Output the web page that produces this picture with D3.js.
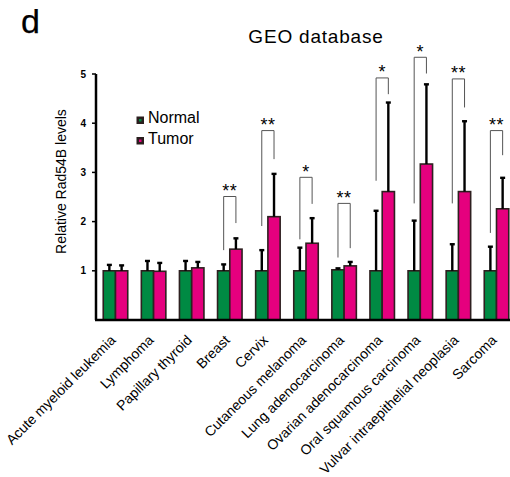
<!DOCTYPE html>
<html>
<head>
<meta charset="utf-8">
<script src="https://cdn.jsdelivr.net/npm/d3@7"></script>
<style>
  body { margin: 0; background: #fff; }
  text { font-family: "Liberation Sans", Arial, sans-serif; }
</style>
</head>
<body>
<svg id="main" width="510" height="477"></svg>
<script>
const width = 510;
const height = 477;

const categories = ['Acute myeloid leukemia', 'Lymphoma', 'Papillary thyroid', 'Breast', 'Cervix',
    'Cutaneous melanoma', 'Lung adenocarcinoma', 'Ovarian adenocarcinoma', 'Oral squamous carcinoma',
    'Vulvar intraepithelial neoplasia', 'Sarcoma'];
const normalValues = [1, 1, 1, 1, 1, 1, 1.02, 1, 1, 1, 1];
const normalErrors = [1.12, 1.2, 1.2, 1.13, 1.42, 1.47, 1.05, 2.22, 2.02, 1.54, 1.49];
const tumorValues = [1, 0.99, 1.06, 1.44, 2.1, 1.56, 1.1, 2.61, 3.17, 2.61, 2.26];
const tumorErrors = [1.11, 1.16, 1.18, 1.66, 2.97, 2.07, 1.18, 4.42, 4.79, 4.04, 2.89];
const yTicks = [1, 2, 3, 4, 5];

// significance brackets: category index, stars, top level, left leg end, right leg end
const sigIndex = [3, 4, 5, 6, 7, 8, 9, 10];
const sigStars = ['**', '**', '*', '**', '*', '*', '**', '**'];
const sigTop = [2.51, 3.85, 2.9, 2.37, 4.92, 5.34, 4.9, 3.85];
const sigLeft = [1.42, 1.91, 1.64, 1.27, 2.83, 2.37, 2.37, 1.77];
const sigRight = [1.97, 3.27, 2.36, 1.46, 4.59, 5.01, 4.32, 3.35];

const green = '#008a43';
const pink = '#e5007e';
const outline = '#2e2020';

const svg = d3.select('#main');

const x = d3.scaleBand()
    .domain(categories)
    .range([96, 516])
    .paddingInner(0.357)
    .paddingOuter(0.19);
const half = x.bandwidth() / 2;
const y = d3.scaleLinear().domain([0, 5]).range([320, 74]);

// bars
const groups = svg.selectAll('.grp')
    .data(categories)
    .join('g')
    .attr('class', 'grp')
    .attr('transform', d => `translate(${x(d)},0)`);

groups.append('rect')
    .attr('x', 0)
    .attr('y', (d, i) => y(normalValues[i]))
    .attr('width', half)
    .attr('height', (d, i) => y(0) - y(normalValues[i]))
    .attr('fill', green)
    .attr('stroke', outline)
    .attr('stroke-width', 1.6);
groups.append('rect')
    .attr('x', half)
    .attr('y', (d, i) => y(tumorValues[i]))
    .attr('width', half)
    .attr('height', (d, i) => y(0) - y(tumorValues[i]))
    .attr('fill', pink)
    .attr('stroke', outline)
    .attr('stroke-width', 1.6);

// error bars
function errBar(g, cx, v, e) {
    g.append('line')
        .attr('x1', cx).attr('x2', cx)
        .attr('y1', y(v)).attr('y2', y(e))
        .attr('stroke', '#000').attr('stroke-width', 2.4);
    g.append('line')
        .attr('x1', cx - 2.5).attr('x2', cx + 2.5)
        .attr('y1', y(e)).attr('y2', y(e))
        .attr('stroke', '#000').attr('stroke-width', 2.4);
}
groups.each(function (d, i) {
    const g = d3.select(this);
    errBar(g, half / 2, normalValues[i], normalErrors[i]);
    errBar(g, half * 1.5, tumorValues[i], tumorErrors[i]);
});

// significance brackets
sigIndex.forEach((ci, k) => {
    const x0 = x(categories[ci]) + half / 2;
    const x1 = x(categories[ci]) + half * 1.5;
    svg.append('path')
        .attr('d', `M${x0},${y(sigLeft[k])}V${y(sigTop[k])}H${x1}V${y(sigRight[k])}`)
        .attr('fill', 'none')
        .attr('stroke', '#555')
        .attr('stroke-width', 1);
    svg.append('text')
        .attr('x', (x0 + x1) / 2)
        .attr('y', y(sigTop[k]) + 0.5)
        .attr('text-anchor', 'middle')
        .attr('font-size', 18)
        .attr('letter-spacing', 0.5)
        .text(sigStars[k]);
});

// axes
svg.append('line')
    .attr('x1', 96).attr('x2', 96)
    .attr('y1', y(0)).attr('y2', y(5))
    .attr('stroke', '#000').attr('stroke-width', 2.5);
svg.append('line')
    .attr('x1', 95).attr('x2', 510)
    .attr('y1', y(0)).attr('y2', y(0))
    .attr('stroke', '#000').attr('stroke-width', 2.5);
svg.selectAll('.ytick')
    .data(yTicks)
    .join('line')
    .attr('class', 'ytick')
    .attr('x1', 92).attr('x2', 96)
    .attr('y1', d => y(d)).attr('y2', d => y(d))
    .attr('stroke', '#000').attr('stroke-width', 1.5);
svg.selectAll('.ylab')
    .data(yTicks)
    .join('text')
    .attr('class', 'ylab')
    .attr('x', 86)
    .attr('y', d => y(d) + 3.5)
    .attr('text-anchor', 'end')
    .attr('font-size', 10)
    .attr('font-weight', 'bold')
    .text(d => d);

// x labels
svg.selectAll('.xlab')
    .data(categories)
    .join('text')
    .attr('class', 'xlab')
    .attr('text-anchor', 'end')
    .attr('font-size', 14)
    .attr('transform', d => `translate(${x(d) + half + 1},${341}) rotate(-45)`)
    .text(d => d);

// y title
svg.append('text')
    .attr('transform', 'translate(66,181.5) rotate(-90)')
    .attr('text-anchor', 'middle')
    .attr('font-size', 14)
    .text('Relative Rad54B levels');

// title and panel letter
svg.append('text')
    .attr('x', 316).attr('y', 42.5)
    .attr('text-anchor', 'middle')
    .attr('font-size', 19)
    .attr('letter-spacing', 0.8)
    .text('GEO database');
svg.append('text')
    .attr('x', 21).attr('y', 33.3)
    .attr('font-size', 34)
    .attr('stroke', '#000')
    .attr('stroke-width', 0.25)
    .text('d');

// legend
const legend = [['Normal', green], ['Tumor', pink]];
legend.forEach((l, i) => {
    svg.append('rect')
        .attr('x', 136.5).attr('y', 116.5 + i * 20.5)
        .attr('width', 7.5).attr('height', 7.5)
        .attr('fill', '#2a1e1e');
    svg.append('rect')
        .attr('x', 139).attr('y', 119 + i * 20.5)
        .attr('width', 2.5).attr('height', 2.5)
        .attr('fill', l[1]);
    svg.append('text')
        .attr('x', 148).attr('y', 122.7 + i * 21)
        .attr('font-size', 16)
        .text(l[0]);
});
</script>
</body>
</html>
